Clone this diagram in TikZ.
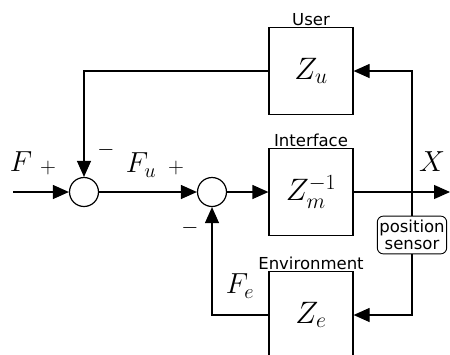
\RequirePackage{fix-cm}
\documentclass[tikz,border=0pt]{standalone}
\usepackage{fontspec}
\newfontfamily\labelfont{DejaVu Sans}
\usetikzlibrary{arrows.meta}
\begin{document}
\begin{tikzpicture}[x=1pt, y=-1pt, line width=1.2pt,
    >={Triangle[length=16pt, width=14pt]}]
  \tikzstyle{block}=[draw, minimum width=84pt, minimum height=87pt, font=\fontsize{31}{33}\selectfont]
  \tikzstyle{sum}=[circle, draw, minimum size=29pt, inner sep=0pt]
  \tikzstyle{tag}=[font=\labelfont\fontsize{16.5}{18}\selectfont, inner sep=1pt]
  \tikzstyle{sym}=[font=\fontsize{29}{31}\selectfont, inner sep=0pt]
  \tikzstyle{sgn}=[font=\fontsize{22}{24}\selectfont, inner sep=0pt]
  \useasboundingbox (0,0) rectangle (450,354);

  \path (311, 71) node[block] (zu) {$Z_u$};
  \path (311, 192) node[block] (zm) {$Z_m^{-1}$};
  \path (311, 315) node[block] (ze) {$Z_e$};

  \path (84, 192) node[sum] (s1) {};
  \path (212, 192) node[sum] (s2) {};

  \path (412, 235) node[draw, rounded corners=6pt, line width=0.9pt, align=center,
    font=\labelfont\fontsize{16.5}{17}\selectfont, inner xsep=2pt, inner ysep=4pt] (ps) {position\\sensor};

  \coordinate (in) at (13, 192);
  \coordinate (out) at (450, 192);

  % block titles
  \path (zu.north) node[tag, above] {User};
  \path (zm.north) node[tag, above] {Interface};
  \path (ze.north) node[tag, above] {Environment};

  % signals and signs
  \path (21, 162) node[sym] (f) {$F$};
  \path (141, 165) node[sym] (fu) {$F_u$};
  \path (240, 286) node[sym] (fe) {$F_e$};
  \path (432, 162) node[sym] (x) {$X$};
  \path (48, 168) node[sgn] {$+$};
  \path (106, 150) node[sgn] {$-$};
  \path (176, 168) node[sgn] {$+$};
  \path (190, 228) node[sgn] {$-$};

  \draw[->] (in) -- (s1);
  \draw[->] (s1) -- (s2);
  \draw[->] (s2) -- (zm);
  \draw[->] (zm) -- (out);
  \draw[->] (zu) -| (s1);
  \draw[->] (ze) -| (s2);
  \draw[->] (ps.north) |- (zu.east);
  \draw[->] (ps.south) |- (ze.east);
\end{tikzpicture}
\end{document}
